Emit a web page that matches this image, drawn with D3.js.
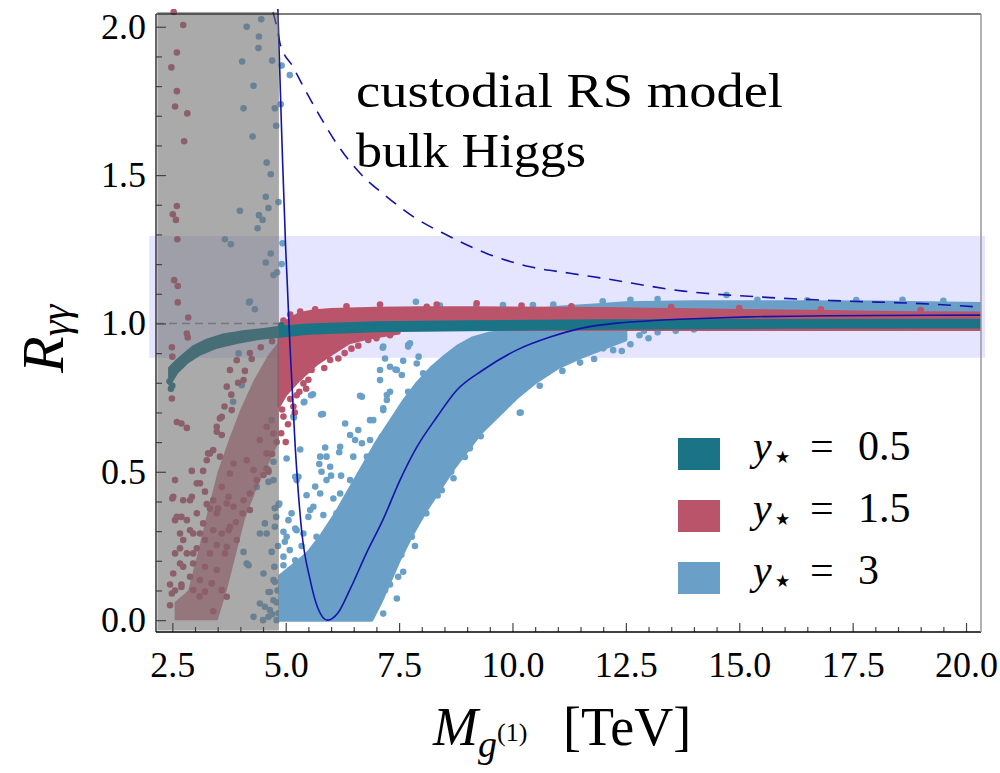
<!DOCTYPE html>
<html>
<head>
<meta charset="utf-8">
<script src="https://cdn.jsdelivr.net/npm/d3@7"></script>
<style>
  body { margin: 0; background: #fff; }
  svg { display: block; }
  text { font-family: "Liberation Serif", "DejaVu Serif", serif; }
</style>
</head>
<body>
<div id="chart"></div>
<script>
'use strict'

////////////////////////////////////
//////////// data //////////////////
////////////////////////////////////

const xMajorTicks = [2.5, 5, 7.5, 10, 12.5, 15, 17.5, 20]
const xMinorTicks = d3.range(2.5, 20.01, 0.5)
const yMajorTicks = [0, 0.5, 1, 1.5, 2]
const yMinorTicks = d3.range(0, 2.01, 0.1)

// y* = 0.5 : dense band, upper and lower edge
const tealTop = [[2.44,0.85],[2.6,0.875],[2.74,0.893],[2.96,0.921],[3.26,0.944],[3.62,0.961],[4.06,0.972],[4.51,0.98],[4.87,0.987],[5.5,0.995],[7,1.002],[9,1.006],[12,1.009],[16,1.01],[20.33,1.011]]
const tealBottom = [[2.44,0.795],[2.6,0.835],[2.82,0.868],[3.11,0.897],[3.48,0.92],[3.92,0.936],[4.36,0.948],[4.87,0.957],[5.5,0.967],[7,0.975],[9,0.979],[12,0.984],[16,0.987],[20.33,0.988]]
const tealPoints = [[2.47,0.78],[2.44,0.805],[2.5,0.79],[4.9,0.994]]

// y* = 1.5 : dense regions + loose points
const redBandTop = [[4.87,0.995],[5.0,1.005],[5.15,1.02],[5.3,1.033],[5.6,1.042],[6,1.047],[7,1.051],[8,1.053],[9,1.053],[10,1.052],[11,1.051],[12,1.05],[13,1.048],[14,1.046],[15,1.044],[16,1.042],[17,1.04],[18,1.038],[19,1.036],[20.33,1.035]]
const redBandBottom = [[4.87,0.98],[20.33,0.98]]
const redDipTop = [[4.85,0.965],[6,0.97],[7.5,0.975]]
const redDipBottom = [[4.85,0.72],[5.0,0.76],[5.3,0.81],[5.7,0.865],[6.05,0.9],[6.4,0.935],[6.8,0.95],[7.5,0.968]]
const redLowTop = [[2.55,0.06],[2.85,0.1],[3.05,0.22],[3.3,0.38],[3.5,0.5],[3.75,0.61],[4.0,0.71],[4.3,0.81],[4.6,0.89],[4.85,0.94]]
const redLowBottom = [[2.55,0.0],[3.5,0.0],[3.7,0.1],[3.9,0.22],[4.1,0.34],[4.35,0.44],[4.6,0.52],[4.85,0.6]]
const redPoints = [
  [2.53,2.05],[2.74,2.006],[2.6,1.913],[2.48,1.863],[2.6,1.783],[2.56,1.731],[2.83,1.708],[2.76,1.614],
  [2.6,1.396],[2.51,1.368],[2.58,1.349],[2.61,1.284],[2.54,1.146],[2.62,1.126],[2.62,1.071],[2.85,1.02],
  [2.82,0.966],[2.84,0.953],[2.49,0.92],[2.5,0.888],[2.49,0.747],[2.6,0.668],[2.7,0.663],[2.82,0.648],
  [2.56,0.472],[2.52,0.416],[2.5,0.41],[2.93,0.503],[3.18,0.503],[3.04,0.461],[2.93,0.416],[2.7,0.348],
  [2.56,0.337],[2.67,0.292],[2.89,0.303],[3.11,0.292],[2.67,0.242],[2.96,0.225],[2.74,0.18],[2.56,0.1],
  [3.48,0.635],[3.59,0.624],[3.33,0.562],[3.26,0.539],[3.26,0.391],[3.51,0.376],[3.74,0.416],[4.21,0.371],
  [4.51,0.489],[4.36,0.472],[4.58,0.511],[3.74,0.303],[3.92,0.27],[3.66,0.225],[3.37,0.124],[3.55,0.68],
  [3.65,0.72],[3.8,0.76],[3.95,0.8],[4.1,0.84],[4.25,0.88],[4.45,0.92],[4.7,0.94],[3.9,0.33],[4.05,0.36],
  [4.7,0.56],[4.8,0.6],[2.45,0.05],[2.45,0.12],[2.7,0.12],[3.1,0.08],[3.4,0.03],
  [4.21,0.9],[3.92,0.876],[3.77,0.843],[4.07,0.809],[3.7,0.787],[3.81,0.708],[3.59,0.685],[3.48,0.652],
  [4.58,0.652],[4.73,0.629],[4.43,0.607],[3.29,0.562],[3.4,0.573],[3.55,0.551],[3.85,0.528],[4.14,0.539],
  [4.29,0.506],[3.77,0.494],[4.58,0.562],[4.62,0.5],[3.11,0.461],[3.22,0.433],[3.4,0.404],[3.59,0.449],
  [3.7,0.393],[3.85,0.382],[3.48,0.36],[3.33,0.376],[3.04,0.36],[2.89,0.404],[2.74,0.404],[4.07,0.404],
  [4.21,0.427],[2.6,0.348],[2.82,0.337],[3.18,0.326],[3.4,0.303],[3.59,0.292],[3.77,0.315],[2.96,0.292],
  [2.74,0.27],[3.22,0.27],[3.48,0.253],[3.7,0.247],[3.04,0.242],[2.56,0.225],[2.82,0.225],[3.33,0.225],
  [2.67,0.191],[2.96,0.191],[3.22,0.18],[3.48,0.169],[2.52,0.157],[2.89,0.146],[3.11,0.135],[3.37,0.124],
  [2.7,0.112],[2.96,0.101],[3.22,0.096],[3.59,0.101],[2.49,0.09],[3.7,0.079],
  [4.95,1.01],[5.1,1.03],[5.32,1.04],[5.65,1.048],[6.34,1.058],[7.08,1.064],[8.33,1.064],[9.21,1.068],
  [8.11,1.056],[10.2,1.06],[11.3,1.058],[13.5,1.055],[15.0,1.052],[16.8,1.048],[19.0,1.045],
  [5.98,0.877],[6.16,0.882],[6.82,0.944],[5.32,0.82],[5.39,0.798],[5.24,0.758],[4.95,0.686],[5.17,0.72],
  [5.57,0.843],[6.3,0.9],[6.6,0.925],[7.0,0.95],[5.05,0.66],[4.9,0.63],[5.0,0.6],[5.45,0.78],
  [4.92,0.71],[5.1,0.745],[5.3,0.77],[5.5,0.81],[5.85,0.85],[6.45,0.915],[7.3,0.96],[5.2,0.7]
]

// y* = 3 : dense regions + loose points
const blueCoreTop = [[4.87,0.15],[5.2,0.19],[5.5,0.23],[5.8,0.29],[6.1,0.36],[6.4,0.44],[6.7,0.52],[7.0,0.6],[7.3,0.67],[7.6,0.74],[7.9,0.8],[8.2,0.85],[8.5,0.89],[8.8,0.925],[9.1,0.95],[9.5,0.968],[10,0.976],[11,0.98],[12,0.982],[12.5,0.984]]
const blueCoreBottom = [[4.87,0.0],[6.9,0.0],[7.1,0.06],[7.3,0.13],[7.5,0.2],[7.8,0.29],[8.1,0.37],[8.4,0.44],[8.7,0.51],[9.0,0.57],[9.3,0.63],[9.7,0.69],[10.1,0.75],[10.5,0.8],[11,0.85],[11.5,0.885],[12,0.915],[12.5,0.945]]
const blueBandTop = [[9.5,0.99],[10,1.04],[11,1.055],[11.8,1.062],[12.5,1.07],[14,1.073],[16,1.073],[18,1.072],[20.33,1.067]]
const blueBandBottom = [[9.5,0.98],[20.33,0.98]]
const bluePoints = [
  [4.14,2.0],[4.46,2.025],[4.41,1.967],[4.4,1.928],[4.04,1.883],[4.7,1.886],[4.29,1.801],[4.07,1.725],
  [4.76,1.725],[4.79,1.666],[4.27,1.63],[4.58,1.542],[4.67,1.503],[4.56,1.427],[4.84,1.409],[4.62,1.389],
  [3.99,1.38],[4.41,1.365],[4.49,1.349],[4.38,1.321],[3.66,1.284],[3.79,1.267],[4.67,1.236],[4.56,1.205],
  [4.73,1.163],[4.81,1.172],[4.19,1.071],[4.32,1.048],[4.21,1.074],[3.96,0.899],[4.03,0.792],[3.84,0.736],
  [4.69,0.674],[4.73,0.534],[4.62,0.506],[4.62,0.466],[4.73,0.472],[4.36,0.449],[4.76,0.377],[4.84,0.388],
  [4.79,0.348],[4.54,0.326],[4.76,0.315],[4.58,0.292],[4.43,0.292],[4.07,0.23],[4.69,0.23],[4.18,0.185],
  [4.14,0.191],[4.51,0.157],[4.76,0.129],[4.73,0.135],[4.65,0.095],[4.62,0.095],[4.43,0.056],[4.73,0.067],
  [4.29,0.011],[4.84,0.023],[4.62,0.011],[4.65,0.034],[4.8,0.0],[4.54,0.045],[4.8,0.06],[4.82,0.1],
  [4.75,0.18],[4.83,0.25],[4.7,0.02],[4.5,0.0],
  [4.91,1.869],[5.09,1.837],[4.89,1.739],[4.93,1.27],[4.91,1.2],[4.98,1.002],
  [5.6,0.761],[5.41,0.736],[5.82,0.695],[5.18,0.683],[6.31,0.663],[6.64,0.756],[7.08,0.809],[7.19,0.882],
  [7.74,0.933],[7.89,0.865],[7.59,0.874],[7.45,0.843],[7.15,0.714],[6.93,0.674],[5.02,0.545],[5.32,0.575],
  [5.87,0.582],[5.9,0.551],[6.18,0.566],[5.74,0.526],[5.79,0.5],[5.21,0.483],[6.0,0.487],[6.22,0.487],
  [6.73,0.487],[5.46,0.421],[5.65,0.45],[6.2,0.427],[6.42,0.472],[6.6,0.447],[4.86,0.393],[5.06,0.337],
  [4.95,0.298],[4.98,0.264],[5.21,0.309],[5.61,0.382],[5.83,0.354],[5.5,0.348],[5.39,0.292],[5.68,0.281],
  [5.98,0.303],[6.2,0.298],[6.45,0.332],[5.09,0.236],[5.21,0.202],[4.95,0.185],[4.91,0.112],[7.59,0.163],
  [7.48,0.146],[7.45,0.073],[7.15,0.022],[7.19,0.101],[7.78,0.281],[7.89,0.332],[7.63,0.315],[8.18,0.421],
  [8.44,0.438],[8.7,0.478],[8.73,0.528],[9.06,0.579],[8.99,0.584],[8.77,0.669],[9.54,0.708],[9.76,0.708],
  [9.14,0.686],[8.18,0.697],[6.68,0.753],[6.42,0.624],[7.15,0.922],[7.7,0.927],[7.93,0.888],[7.56,0.826],
  [7.23,0.759],[7.08,0.843],[7.3,0.854],[11.49,0.868],[12.41,0.907],[12.22,0.91],[12.0,0.916],[11.56,0.907],
  [12.36,0.953],[9.53,0.699],[10.16,0.699],[9.36,0.655],[10.35,0.8],[10.5,0.828],[10.18,0.7],[9.5,0.697],
  [11.86,0.913],[7.14,0.918],[7.7,0.922],[7.42,0.845],[5.56,0.758],[5.4,0.734],[5.78,0.693],[5.17,0.686],
  [5.24,0.472],[12.8,0.96],[13.2,0.97],[13.6,0.975],[14.0,0.98],[14.3,0.985],[13.0,0.95],[12.9,0.975],
  [8.03,0.832],[7.7,0.77],[7.3,0.77],[6.6,0.641],[6.86,0.674],[7.15,0.708],[7.23,0.742],[7.45,0.686],
  [7.67,0.742],[6.53,0.607],[6.68,0.596],[6.86,0.607],[7.01,0.584],[7.12,0.618],[6.49,0.551],[6.79,0.551],
  [7.08,0.539],[6.86,0.461],[7.01,0.427],[7.19,0.45],[6.64,0.371],[6.34,0.393],[5.68,0.236],[5.9,0.258],
  [5.46,0.214],[6.12,0.247],[6.27,0.214],[6.56,0.281],[5.76,0.551],[5.98,0.517],[6.2,0.584],[5.9,0.472],
  [5.28,0.483],[5.76,0.427],[5.13,0.36],[5.54,0.371],[5.24,0.303],[6.12,0.36],[5.02,0.281],[5.98,0.27],
  [4.95,0.214],[5.68,0.202],[5.39,0.157],[6.12,0.191],[6.35,0.33],[6.05,0.41],[5.35,0.25],[5.1,0.17],
  [7.55,0.22],[7.85,0.25],[8.1,0.36],[8.35,0.42],[8.65,0.5],[8.95,0.55],[9.3,0.62],[9.9,0.73],[10.6,0.79],
  [11.1,0.84],[11.8,0.88],[12.6,0.93],[7.3,0.12],[7.4,0.2],
  [7.87,1.073],[9.79,1.062],[10.45,1.062],[11.99,1.075],[14.72,1.096],[17.58,1.079],[13.2,1.082],[15.4,1.08],
  [16.5,1.078],[18.6,1.08],[19.5,1.076],[12.6,1.08],[10.9,1.064],[9.2,1.058],[8.4,1.06]
]

// theory curves
const solidCurve = [[4.82,2.1],[4.83,2.043],[4.92,1.6],[5.0,1.25],[5.03,1.15],[5.095,0.92],[5.21,0.583],[5.35,0.303],[5.54,0.135],[5.71,0.04],[5.92,0.0],[6.15,0.024],[6.41,0.101],[6.78,0.226],[7.14,0.337],[7.52,0.472],[7.89,0.583],[8.33,0.684],[8.77,0.775],[9.35,0.843],[10.09,0.91],[10.83,0.954],[11.56,0.985],[12.29,1.001],[13.03,1.009],[14,1.016],[15.2,1.022],[17,1.026],[20.33,1.028]]
const dashedCurve = [[4.72,2.05],[4.83,1.98],[4.874,1.944],[5.16,1.865],[5.39,1.798],[5.76,1.697],[6.12,1.607],[6.64,1.506],[7.23,1.427],[7.81,1.36],[8.55,1.298],[9.43,1.236],[10.39,1.191],[11.27,1.169],[12.0,1.152],[13.77,1.109],[15.6,1.088],[17.07,1.077],[19.27,1.065],[20.33,1.055]]

const excludedRange = [2.17, 4.85]
const bandRange = [0.884, 1.295]

const legendLabels = ['0.5', '1.5', '3']
const colors = ['#1b7386', '#b9546b', '#6aa0c8']

////////////////////////////////////
//////////// svg setup /////////////
////////////////////////////////////

const svgWidth = 1000
const svgHeight = 773
const serif = '"Liberation Serif", "DejaVu Serif", serif'

const svg = d3.select('#chart')
    .append('svg')
    .attr('width', svgWidth)
    .attr('height', svgHeight)

const x = d3.scaleLinear().domain([2.14, 20.33]).range([156, 981])
const y = d3.scaleLinear().domain([-0.04, 2.043]).range([632, 14])

svg.append('defs').append('clipPath').attr('id', 'plotclip')
    .append('rect')
    .attr('x', x(2.14)).attr('y', 9)
    .attr('width', x(20.33) - x(2.14)).attr('height', 632 - 9)

const line = d3.line().x(d => x(d[0])).y(d => y(d[1]))

// filled region between two edges (dense part of a scatter)
function cloud(g, top, bottom, color, opacity = 1) {
    const pts = top.concat(bottom.slice().reverse())
    g.append('path')
        .attr('d', line(pts) + 'Z')
        .attr('fill', color)
        .attr('fill-opacity', opacity)
        .attr('stroke', opacity < 1 ? 'none' : color)
        .attr('stroke-width', 3)
        .attr('stroke-linejoin', 'round')
}

function dots(g, pts, color) {
    g.selectAll(null).data(pts).enter().append('circle')
        .attr('cx', d => x(d[0]))
        .attr('cy', d => y(d[1]))
        .attr('r', 3.3)
        .attr('fill', color)
}

////////////////////////////////////
//////////// background ////////////
////////////////////////////////////

// experimental band
svg.append('rect')
    .attr('x', x(1.99)).attr('width', x(20.42) - x(1.99))
    .attr('y', y(bandRange[1])).attr('height', y(bandRange[0]) - y(bandRange[1]))
    .attr('fill', 'rgb(0,0,255)')
    .attr('fill-opacity', 0.1)

const plot = svg.append('g').attr('clip-path', 'url(#plotclip)')

// SM reference
plot.append('line')
    .attr('x1', x(2.14)).attr('x2', x(20.33))
    .attr('y1', y(1)).attr('y2', y(1))
    .attr('stroke', '#8a8a8a')
    .attr('stroke-width', 1.5)
    .attr('stroke-dasharray', '8,5')

////////////////////////////////////
//////////// scatter ///////////////
////////////////////////////////////

const gBlue = plot.append('g')
cloud(gBlue, blueCoreTop, blueCoreBottom, colors[2])
cloud(gBlue, blueBandTop, blueBandBottom, colors[2])
dots(gBlue, bluePoints, colors[2])

const gRed = plot.append('g')
cloud(gRed, redLowTop, redLowBottom, colors[1], 0.7)
cloud(gRed, redDipTop, redDipBottom, colors[1])
cloud(gRed, redBandTop, redBandBottom, colors[1])
dots(gRed, redPoints, colors[1])

const gTeal = plot.append('g')
cloud(gTeal, tealTop, tealBottom, colors[0])
dots(gTeal, tealPoints, colors[0])

// excluded mass region
svg.append('rect')
    .attr('x', x(excludedRange[0])).attr('width', x(excludedRange[1]) - x(excludedRange[0]))
    .attr('y', y(2.05)).attr('height', y(-0.035) - y(2.05))
    .attr('fill', '#6a6a6a')
    .attr('fill-opacity', 0.57)

////////////////////////////////////
//////////// curves ////////////////
////////////////////////////////////

const curve = d3.line().x(d => x(d[0])).y(d => y(d[1])).curve(d3.curveMonotoneX)

plot.append('path')
    .attr('d', curve(dashedCurve))
    .attr('fill', 'none')
    .attr('stroke', '#1414a8')
    .attr('stroke-width', 1.6)
    .attr('stroke-dasharray', '13,9')

plot.append('path')
    .attr('d', curve(solidCurve))
    .attr('fill', 'none')
    .attr('stroke', '#1414a8')
    .attr('stroke-width', 1.6)

////////////////////////////////////
//////////// axes //////////////////
////////////////////////////////////

const fmt = d3.format('.1f')

svg.append('g')
    .attr('transform', 'translate(0,632)')
    .call(d3.axisBottom(x).tickValues(xMajorTicks).tickSize(-9).tickPadding(19).tickFormat(fmt))

svg.append('g')
    .attr('transform', 'translate(0,632)')
    .call(d3.axisBottom(x).tickValues(xMinorTicks.filter(v => xMajorTicks.indexOf(v) < 0)).tickSize(-5).tickFormat(''))

svg.append('g')
    .attr('transform', 'translate(156,0)')
    .call(d3.axisLeft(y).tickValues(yMajorTicks).tickSize(-10).tickPadding(10).tickFormat(fmt))

svg.append('g')
    .attr('transform', 'translate(156,0)')
    .call(d3.axisLeft(y).tickValues(yMinorTicks.filter((v, i) => i % 5 !== 0)).tickSize(-6).tickFormat(''))

svg.selectAll('.tick text')
    .attr('font-size', 36)
    .attr('fill', '#000')
    .style('font-family', serif)
svg.selectAll('.domain').remove()
svg.selectAll('.tick line').attr('stroke', '#444').attr('stroke-width', 1.2)

// frame
svg.append('line').attr('x1', 156).attr('x2', 981).attr('y1', 14).attr('y2', 14).attr('stroke', '#000').attr('stroke-width', 1.2)
svg.append('line').attr('x1', 156).attr('x2', 156).attr('y1', 14).attr('y2', 632).attr('stroke', '#333').attr('stroke-width', 1.5)
svg.append('line').attr('x1', 156).attr('x2', 981).attr('y1', 632).attr('y2', 632).attr('stroke', '#000').attr('stroke-width', 1.5)
svg.append('line').attr('x1', 981).attr('x2', 981).attr('y1', 14).attr('y2', 632).attr('stroke', '#999').attr('stroke-width', 1.5)

// axis labels
const xl = svg.append('text').attr('x', 433).attr('y', 745).attr('font-size', 54).style('font-family', serif)
xl.append('tspan').attr('font-style', 'italic').text('M')
xl.append('tspan').attr('font-style', 'italic').attr('font-size', 38).attr('dy', 12).text('g')
xl.append('tspan').attr('font-size', 26).attr('dy', -16).text('(1)')
xl.append('tspan').attr('x', 563).attr('dy', 4).text('[TeV]')

const yl = svg.append('text').attr('transform', 'translate(63,373) rotate(-90)').attr('font-size', 60).style('font-family', serif)
yl.append('tspan').attr('font-style', 'italic').text('R')
yl.append('tspan').attr('font-style', 'italic').attr('font-size', 40).attr('dy', 6).text('γγ')

// annotation
svg.append('text').attr('x', 356).attr('y', 107).attr('font-size', 48).style('font-family', serif)
    .attr('textLength', 427).attr('lengthAdjust', 'spacingAndGlyphs')
    .text('custodial RS model')
svg.append('text').attr('x', 356).attr('y', 167).attr('font-size', 48).style('font-family', serif)
    .attr('textLength', 230).attr('lengthAdjust', 'spacingAndGlyphs')
    .text('bulk Higgs')

////////////////////////////////////
//////////// legend ////////////////
////////////////////////////////////

const legend = svg.append('g').attr('transform', 'translate(678,438)')
legendLabels.forEach((lab, i) => {
    const row = legend.append('g').attr('transform', `translate(0,${i * 62})`)
    row.append('rect').attr('width', 42).attr('height', 32).attr('fill', colors[i])
    const t = row.append('text').attr('x', 75).attr('y', 22).attr('font-size', 42).style('font-family', serif)
    t.append('tspan').attr('font-style', 'italic').text('y')
    t.append('tspan').attr('font-size', 34).attr('dy', 8).text('⋆')
    row.append('text').attr('x', 132).attr('y', 22).attr('font-size', 42).style('font-family', serif).text('=')
    row.append('text').attr('x', 180).attr('y', 22).attr('font-size', 42).style('font-family', serif).text(lab)
})
</script>
</body>
</html>
